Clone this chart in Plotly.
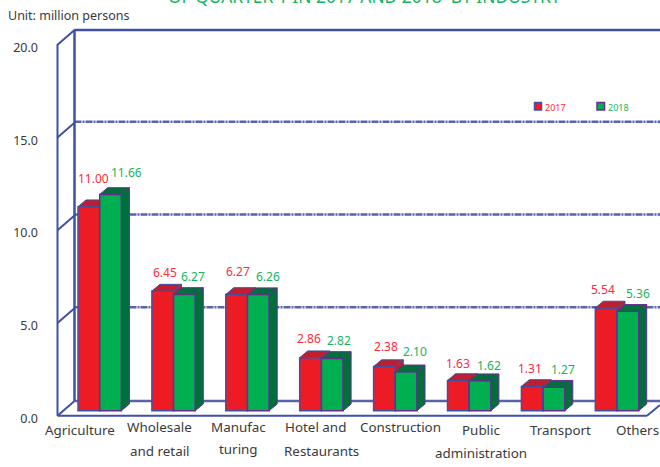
import plotly.graph_objects as go

# ---- data ----
category_lines = [["Agriculture"], ["Wholesale", "and retail"], ["Manufac", "turing"],
                  ["Hotel and", "Restaurants"], ["Construction"], ["Public", "administration"],
                  ["Transport"], ["Others"]]
values_2017 = [11.00, 6.45, 6.27, 2.86, 2.38, 1.63, 1.31, 5.54]
values_2018 = [11.66, 6.27, 6.26, 2.82, 2.10, 1.62, 1.27, 5.36]
y_ticks = [0, 5, 10, 15, 20]
title = "OF QUARTER 1 IN 2017 AND 2018  BY INDUSTRY"
unit = "Unit: million persons"

# ---- styling / geometry ----
W, H = 660, 467
FONT = "Noto Sans"
RED, RED_D = "#ed1c24", "#be1e2d"
GRN, GRN_D = "#00b050", "#006f3c"
BLUE, GRID, PURP = "#3f51a5", "#5a62a8", "#662d91"
RED_T, GRN_T = "#ff2a3a", "#14b45f"
INK = "#3a3a3a"
PX_UNIT = 18.55          # px per value unit
PX_CAT = 73.9            # px per category
X0, Y0 = 99.7, 410.7     # px of category 0 centre, value 0 bar front
BW = 21.7 / PX_CAT
DX, DY = 8 / PX_CAT, 6.7 / PX_UNIT
xr = [(0 - X0) / PX_CAT, (W - X0) / PX_CAT]
yr = [(Y0 - H) / PX_UNIT, Y0 / PX_UNIT]

def fx(p): return p / W
def fy(p): return 1 - p / H

fig = go.Figure()

def faces(values, left_off, face_col, dark_col, line_col, yaxis, name):
    xs = list(range(len(values)))
    fig.add_trace(go.Bar(x=xs, y=values, width=BW, offset=left_off, marker_color=face_col,
                         marker_line=dict(color=line_col, width=1.5), yaxis=yaxis, name=name, showlegend=False))
    for x, v in zip(xs, values):
        l, r = x + left_off, x + left_off + BW
        fig.add_trace(go.Scatter(x=[l, l + DX, r + DX, r, l], y=[v, v + DY, v + DY, v, v], fill="toself", mode="lines",
                                 fillcolor=dark_col, line=dict(color=line_col, width=1), yaxis=yaxis,
                                 showlegend=False, hoverinfo="skip"))
        fig.add_trace(go.Scatter(x=[r, r + DX, r + DX, r, r], y=[0, DY, v + DY, v, 0], fill="toself", mode="lines",
                                 fillcolor=dark_col, line=dict(color=line_col, width=1), yaxis=yaxis,
                                 showlegend=False, hoverinfo="skip"))

faces(values_2017, -BW, RED, RED_D, BLUE, "y", "2017")
faces(values_2018, 0, GRN, GRN_D, PURP, "y2", "2018")
fig.add_trace(go.Scatter(x=[None], y=[None], yaxis="y3", showlegend=False, hoverinfo="skip"))

# ---- wall / floor ----
shapes = []
def seg(x0, y0, x1, y1, color=BLUE, width=2, dash="solid"):
    shapes.append(dict(type="line", xref="paper", yref="paper", x0=fx(x0), y0=fy(y0), x1=fx(x1), y1=fy(y1),
                       line=dict(color=color, width=width, dash=dash), layer="below"))

L_F, L_B = 57.5, 74.5
for v in y_ticks:
    y_f = 415.7 - v * PX_UNIT
    y_b = 401.0 - v * PX_UNIT
    seg(L_F, y_f, L_B, y_b, width=2)
    if v in (5, 10, 15):
        seg(L_B, y_b - 1, W, y_b - 1, color=GRID, width=2.5, dash="7px,1px,2px,1px")
    else:
        seg(L_B, y_b, W, y_b, color=GRID if v == 0 else BLUE, width=2.5)
seg(L_F, 44, L_F, 415.7)
seg(L_B, 29.5, L_B, 401, width=2.5)
seg(L_F, 415.7, 647, 415.7)
seg(647, 415.7, 660, 405)

# legend swatches
shapes.append(dict(type="rect", xref="paper", yref="paper", x0=fx(534.5), x1=fx(541.5), y0=fy(110), y1=fy(102.5),
                   fillcolor=RED, line=dict(color=BLUE, width=1.5)))
shapes.append(dict(type="rect", xref="paper", yref="paper", x0=fx(597), x1=fx(604.5), y0=fy(110), y1=fy(102.5),
                   fillcolor=GRN, line=dict(color=PURP, width=1.5)))

# ---- text ----
ann = []
def text(s, x, y, color=INK, size=13):
    ann.append(dict(text=s, xref="paper", yref="paper", x=fx(x), y=fy(y), xanchor="center", yanchor="middle",
                    showarrow=False, font=dict(family=FONT, size=size, color=color)))

text(title, 364, -3.5, GRN_T, 17.4)
ann.append(dict(text=unit, xref="paper", yref="paper", x=fx(6), y=fy(15), xanchor="left", yanchor="middle",
                showarrow=False, font=dict(family=FONT, size=12.5, color=INK)))
text("2017", 555, 108, RED_T, 9)
text("2018", 618, 108, GRN_T, 9)

cat_x = [[80], [159.5, 159.5], [238, 238], [315, 321], [400], [481, 481], [560], [637]]
cat_y = [[430], [427, 451], [427, 449], [427, 451], [427], [430, 453], [430], [430]]
for lines, xs_, ys_ in zip(category_lines, cat_x, cat_y):
    for s, x_, y_ in zip(lines, xs_, ys_):
        text(s, x_, y_, size=13.4)

red_dx = [-6.7, -8.6, -9.5, -12.4, -9.3, -11, -13, -14]
grn_dx = [27, 19, 20, 18, 20, 20, 20, 21]
red_y = [178, 272, 271, 338, 346, 363, 368, 289]
grn_y = [172, 276, 276, 340, 351, 365, 369, 293]
for i in range(len(values_2017)):
    cx = X0 + i * PX_CAT
    text(f"{values_2017[i]:.2f}", cx + red_dx[i], red_y[i], RED_T, 12)
    text(f"{values_2018[i]:.2f}", cx + grn_dx[i], grn_y[i], GRN_T, 12)

shift = 7.7 / PX_UNIT
fig.update_layout(
    width=W, height=H, margin=dict(l=0, r=0, t=0, b=0, pad=0), autosize=False,
    paper_bgcolor="white", plot_bgcolor="rgba(0,0,0,0)", barmode="overlay", showlegend=False,
    xaxis=dict(range=xr, visible=False, fixedrange=True),
    yaxis=dict(range=yr, visible=False, fixedrange=True),
    yaxis2=dict(range=yr, visible=False, overlaying="y", fixedrange=True),
    yaxis3=dict(range=[yr[0] + shift, yr[1] + shift], overlaying="y", anchor="free", position=38 / W,
                tickmode="array", tickvals=y_ticks, ticktext=[f"{v:.1f}" for v in y_ticks],
                showgrid=False, zeroline=False, showline=False, ticks="", side="left", automargin=False,
                tickfont=dict(family=FONT, size=12.5, color=INK), fixedrange=True),
    shapes=shapes, annotations=ann,
)
fig.write_html("out.html", config={"displayModeBar": False},
               post_script="document.body.style.margin='0';document.documentElement.style.overflow='hidden';")
